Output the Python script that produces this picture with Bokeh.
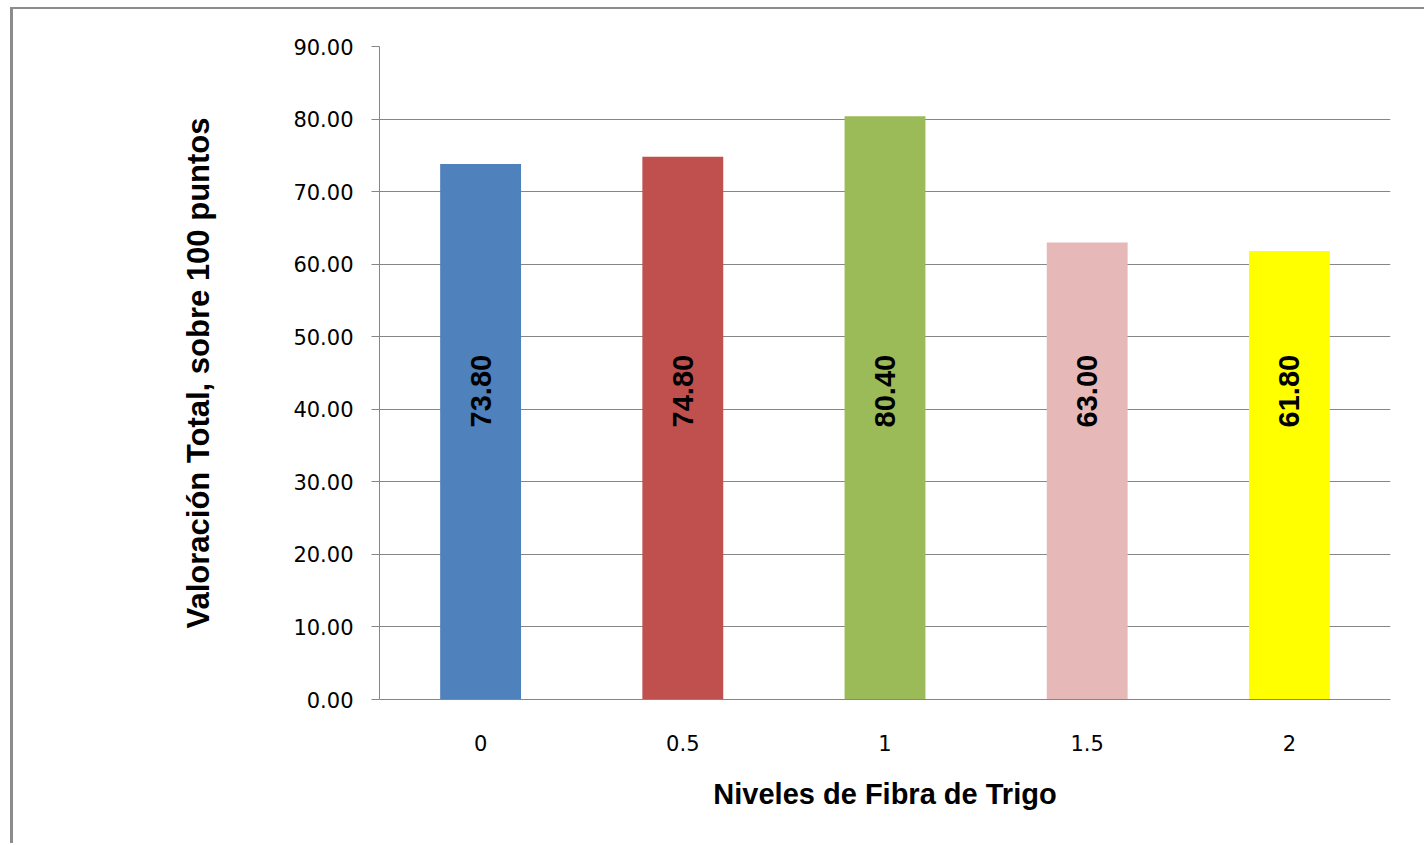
import math
from bokeh.plotting import figure
from bokeh.models import ColumnDataSource, FixedTicker
from bokeh.core.properties import value
from bokeh.embed import file_html
from bokeh.resources import INLINE

categories = ["0", "0.5", "1", "1.5", "2"]
values = [73.80, 74.80, 80.40, 63.00, 61.80]
labels = ["73.80", "74.80", "80.40", "63.00", "61.80"]
colors = ["#4F81BD", "#C0504D", "#9BBB59", "#E6B9B8", "#FFFF00"]
y_ticks = [0, 10, 20, 30, 40, 50, 60, 70, 80, 90]
y_tick_labels = ["0.00", "10.00", "20.00", "30.00", "40.00", "50.00", "60.00", "70.00", "80.00", "90.00"]

LABEL_Y = 42.5

src = ColumnDataSource(dict(
    cat=categories, val=values, lab=labels, col=colors,
    ly=[LABEL_Y] * len(categories),
))

p = figure(
    x_range=categories, y_range=(0, 90),
    width=1414, height=836,
    output_backend="svg", toolbar_location=None,
    min_border_left=366, min_border_right=37,
    min_border_top=37, min_border_bottom=146,
    margin=(7, 0, 0, 10),
)
p.styles = {"border-left": "3px solid #8C8C8C", "border-top": "2px solid #8C8C8C"}

p.vbar(x="cat", top="val", width=0.4, fill_color="col", line_color=None, source=src)
p.text(x="cat", y="ly", text="lab", source=src, angle=math.pi / 2,
       text_align="center", text_baseline="middle",
       text_font=value("Liberation Sans"), text_font_style="bold",
       text_font_size="29px", text_color="#000000")

p.outline_line_color = None
p.background_fill_color = "white"
p.border_fill_color = "white"

p.xgrid.grid_line_color = None
p.ygrid.grid_line_color = "#868686"
p.ygrid.grid_line_width = 1

p.yaxis.ticker = FixedTicker(ticks=y_ticks)
p.yaxis.major_label_overrides = {t: l for t, l in zip(y_ticks, y_tick_labels)}
p.yaxis.minor_tick_line_color = None
p.yaxis.major_tick_in = 0
p.yaxis.major_tick_out = 8
p.yaxis.major_tick_line_color = "#868686"
p.yaxis.axis_line_color = "#868686"
p.yaxis.major_label_text_font = "DejaVu Sans"
p.yaxis.major_label_text_font_size = "21px"
p.yaxis.major_label_text_color = "#000000"
p.yaxis.major_label_standoff = 18
p.yaxis.axis_label = "Valoración Total, sobre 100 puntos"
p.yaxis.axis_label_text_font = "Liberation Sans"
p.yaxis.axis_label_text_font_style = "bold"
p.yaxis.axis_label_text_font_size = "31px"
p.yaxis.axis_label_text_color = "#000000"
p.yaxis.axis_label_standoff = 74

p.xaxis.major_tick_line_color = None
p.xaxis.minor_tick_line_color = None
p.xaxis.axis_line_color = "#868686"
p.xaxis.major_label_text_font = "DejaVu Sans"
p.xaxis.major_label_text_font_size = "21px"
p.xaxis.major_label_text_color = "#000000"
p.xaxis.major_label_standoff = 29
p.xaxis.axis_label = "Niveles de Fibra de Trigo"
p.xaxis.axis_label_text_font = "Liberation Sans"
p.xaxis.axis_label_text_font_style = "bold"
p.xaxis.axis_label_text_font_size = "29px"
p.xaxis.axis_label_text_color = "#000000"
p.xaxis.axis_label_standoff = 24

open("out.html", "w").write(file_html(p, INLINE))
